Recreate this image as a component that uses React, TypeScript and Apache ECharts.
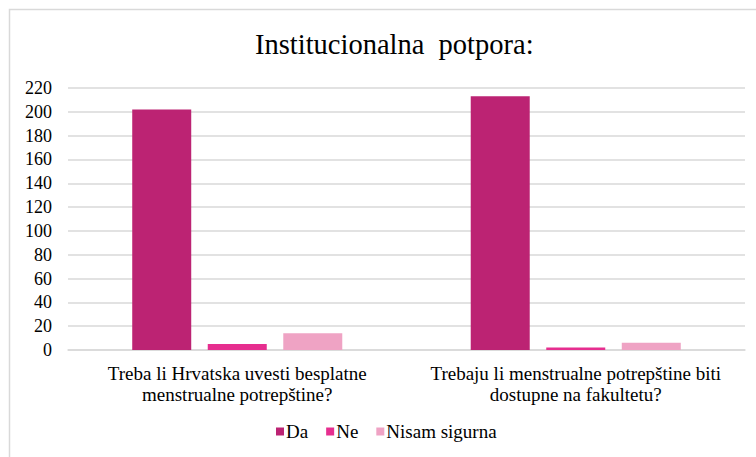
import React, { useEffect, useRef } from "react";
import * as echarts from "echarts";

const categories = [
  "Treba li Hrvatska uvesti besplatne\nmenstrualne potrepštine?",
  "Trebaju li menstrualne potrepštine biti\ndostupne na fakultetu?",
];
const seriesNames = ["Da", "Ne", "Nisam sigurna"];
const daValues = [202, 213];
const neValues = [5, 2];
const nisamValues = [14, 6];
const colors = ["#bc2373", "#e62e8f", "#efa3c4"];
const yTicks = { min: 0, max: 220, interval: 20 };

export default function App() {
  const ref = useRef<HTMLDivElement>(null);
  useEffect(() => {
    const chart = echarts.init(ref.current!, null, { renderer: "svg" });
    const font = "Liberation Serif";
    const data = [daValues, neValues, nisamValues];
    chart.setOption({
      animation: false,
      backgroundColor: "#ffffff",
      textStyle: { fontFamily: font },
      title: {
        text: "Institucionalna  potpora:",
        left: 250,
        top: 25,
        textStyle: { fontFamily: font, fontSize: 28.5, fontWeight: "normal", color: "#000" },
      },
      graphic: [
        {
          type: "rect",
          shape: { x: 9.5, y: 9.5, width: 800, height: 500 },
          style: { fill: "none", stroke: "#d9d9d9", lineWidth: 1.5 },
          silent: true,
        },
      ],
      legend: {
        bottom: 11,
        left: 271,
        itemWidth: 8,
        itemHeight: 8,
        itemGap: 18,
        icon: "rect",
        textStyle: {
          fontFamily: font,
          fontSize: 19,
          color: "#000",
          padding: [0, 0, 0, -3],
        },
        data: seriesNames,
      },
      grid: { left: 68, right: 11, top: 88, bottom: 107, containLabel: false },
      xAxis: {
        type: "category",
        data: categories,
        axisLine: { lineStyle: { color: "#d9d9d9", width: 1.5 } },
        axisTick: { show: false },
        axisLabel: {
          fontFamily: font,
          fontSize: 19,
          color: "#000",
          lineHeight: 21,
          margin: 13,
          interval: 0,
        },
      },
      yAxis: {
        type: "value",
        min: yTicks.min,
        max: yTicks.max,
        interval: yTicks.interval,
        axisLine: { show: false },
        axisTick: { show: false },
        axisLabel: {
          fontFamily: font,
          fontSize: 18,
          color: "#000",
          margin: 16,
        },
        splitLine: { lineStyle: { color: "#d9d9d9", width: 1.5 } },
      },
      series: seriesNames.map((name, i) => ({
        name,
        type: "bar",
        data: data[i],
        barWidth: 59,
        barGap: "28%",
        itemStyle: { color: colors[i] },
      })),
    });
    return () => chart.dispose();
  }, []);
  return (
    <div
      ref={ref}
      style={{ position: "absolute", left: 0, top: 0, width: 756, height: 457 }}
    />
  );
}
